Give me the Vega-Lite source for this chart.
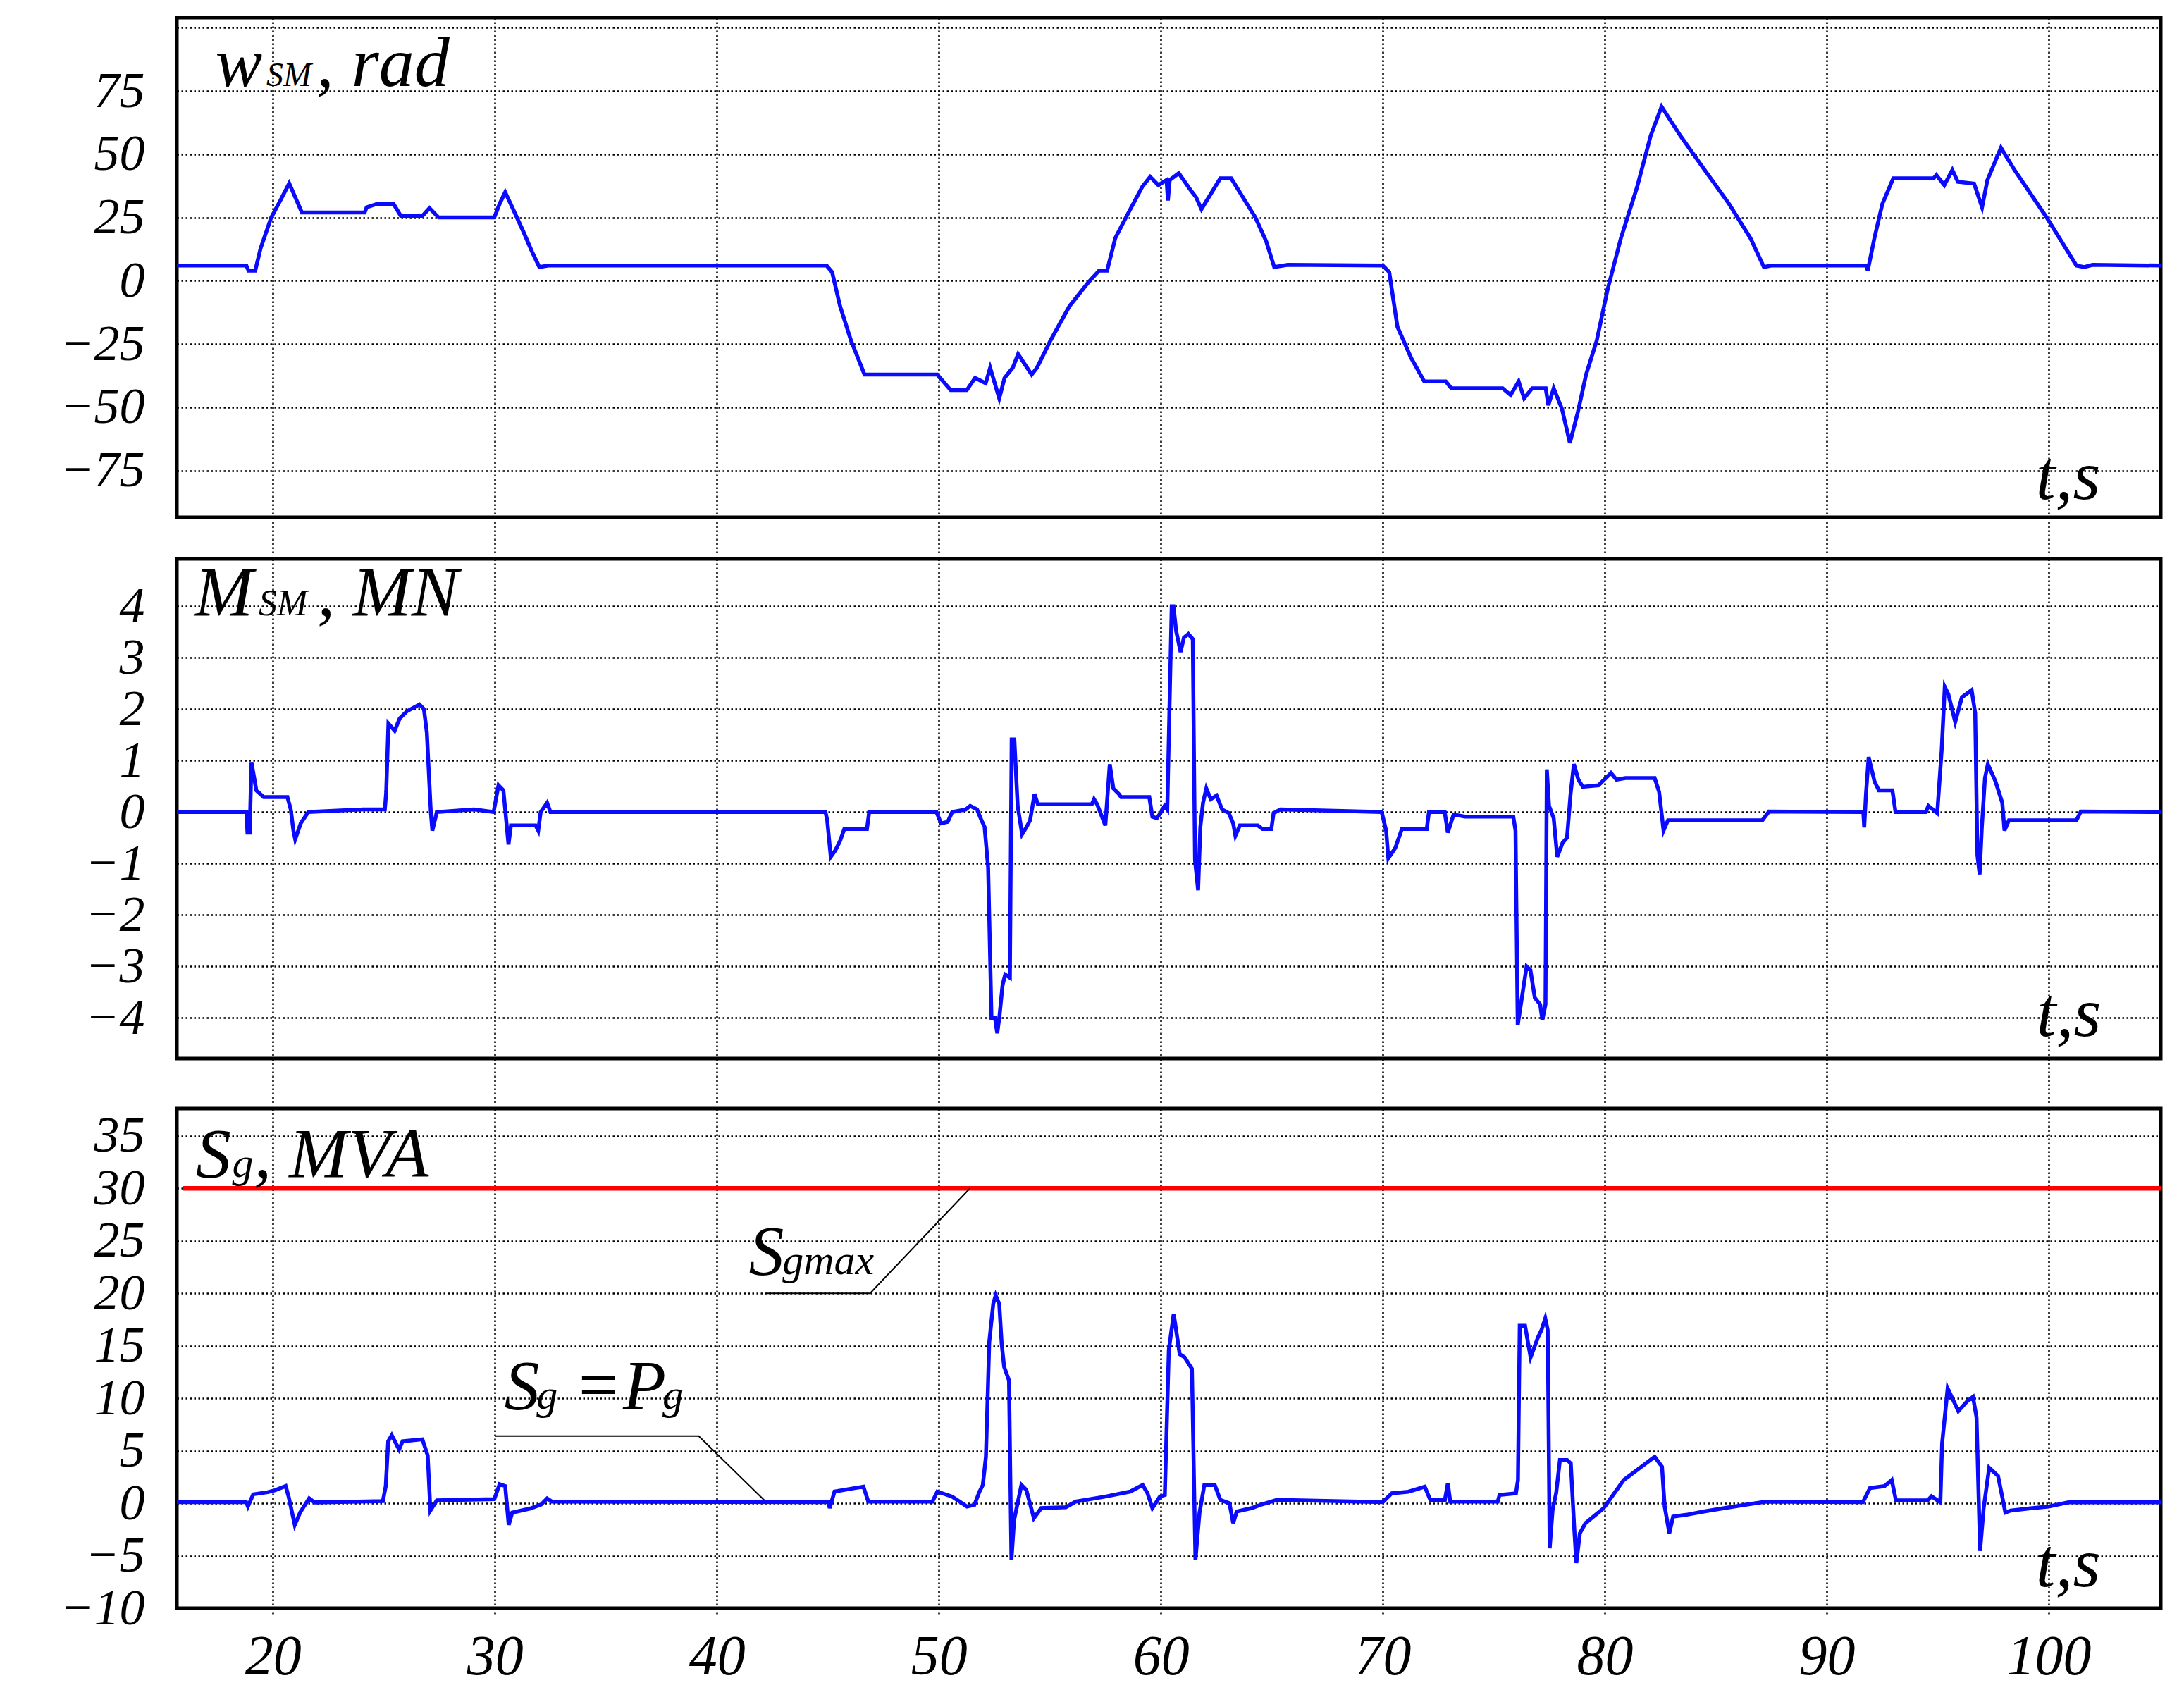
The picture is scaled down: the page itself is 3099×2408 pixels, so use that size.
{
  "$schema": "https://vega.github.io/schema/vega-lite/v6.json",
  "background": "white",
  "padding": {"left": 81, "top": 0, "right": 10, "bottom": 0},
  "spacing": 0,
  "config": {
    "view": {"stroke": "black", "strokeWidth": 5},
    "font": "Liberation Serif",
    "axis": {"labelFont": "Liberation Serif", "labelFontStyle": "italic", "labelColor": "black", "labelOverlap": false, "labelFlush": false, "domain": false, "gridColor": "black", "gridDash": [2.5, 3.5], "gridWidth": 2.5, "gridOpacity": 1, "title": null}
  },
  "datasets": {
    "w": [
      {"t":15.67,"v":6},{"t":18.8,"v":6},{"t":18.9,"v":4},{"t":19.2,"v":4},{"t":19.44,"v":12.8},{"t":19.92,"v":25},{"t":20.33,"v":31.7},{"t":20.73,"v":38.5},{"t":21.3,"v":27},{"t":24.13,"v":27},{"t":24.22,"v":29},{"t":24.7,"v":30.4},{"t":25.43,"v":30.4},{"t":25.76,"v":25.6},{"t":26.73,"v":25.6},{"t":27.05,"v":28.7},{"t":27.46,"v":25},{"t":29.97,"v":25},{"t":30.21,"v":30.4},{"t":30.46,"v":35},{"t":30.78,"v":29},{"t":31.27,"v":19.6},{"t":31.67,"v":11.5},{"t":32.0,"v":5.4},{"t":32.4,"v":6},{"t":44.94,"v":6},{"t":45.19,"v":3.4},{"t":45.55,"v":-10.1},{"t":46.04,"v":-23.6},{"t":46.65,"v":-37.1},{"t":49.93,"v":-37.1},{"t":50.53,"v":-43.2},{"t":51.26,"v":-43.2},{"t":51.63,"v":-38.4},{"t":52.11,"v":-40.5},{"t":52.31,"v":-34.4},{"t":52.72,"v":-46.5},{"t":52.96,"v":-38.4},{"t":53.33,"v":-34.4},{"t":53.57,"v":-29},{"t":54.18,"v":-37.1},{"t":54.42,"v":-34.4},{"t":55.03,"v":-23.6},{"t":55.88,"v":-10.1},{"t":56.73,"v":-0.7},{"t":57.22,"v":4},{"t":57.58,"v":4},{"t":57.95,"v":16.9},{"t":58.43,"v":25},{"t":59.16,"v":37.1},{"t":59.52,"v":41.1},{"t":59.89,"v":37.8},{"t":60.26,"v":39.8},{"t":60.32,"v":31.7},{"t":60.4,"v":39.8},{"t":60.81,"v":42.5},{"t":61.35,"v":35.7},{"t":61.59,"v":33},{"t":61.83,"v":28.3},{"t":62.68,"v":40.5},{"t":63.17,"v":40.5},{"t":64.26,"v":25},{"t":64.75,"v":15.5},{"t":65.11,"v":5.4},{"t":65.72,"v":6.3},{"t":70.0,"v":6},{"t":70.29,"v":3.4},{"t":70.66,"v":-18.2},{"t":71.27,"v":-30.4},{"t":71.87,"v":-39.8},{"t":72.84,"v":-39.8},{"t":73.09,"v":-42.5},{"t":75.4,"v":-42.5},{"t":75.76,"v":-45.2},{"t":76.12,"v":-39.8},{"t":76.37,"v":-46.5},{"t":76.73,"v":-42.5},{"t":77.34,"v":-42.5},{"t":77.46,"v":-49.2},{"t":77.7,"v":-42.5},{"t":78.07,"v":-50.6},{"t":78.43,"v":-64.1},{"t":78.79,"v":-51.9},{"t":79.16,"v":-37.1},{"t":79.64,"v":-23.6},{"t":80.13,"v":-3.4},{"t":80.73,"v":16.9},{"t":81.46,"v":37.1},{"t":82.07,"v":57.3},{"t":82.56,"v":68.8},{"t":83.41,"v":57.3},{"t":84.5,"v":43.8},{"t":85.6,"v":30.4},{"t":86.56,"v":16.9},{"t":87.17,"v":5.4},{"t":87.5,"v":6},{"t":91.78,"v":6},{"t":91.85,"v":4},{"t":92.15,"v":16.9},{"t":92.51,"v":30.4},{"t":93.0,"v":40.5},{"t":94.82,"v":40.5},{"t":94.94,"v":41.8},{"t":95.3,"v":37.8},{"t":95.66,"v":43.8},{"t":95.91,"v":39.1},{"t":96.64,"v":38.4},{"t":97.0,"v":29},{"t":97.24,"v":39.8},{"t":97.85,"v":52.6},{"t":98.46,"v":43.8},{"t":99.91,"v":25},{"t":101.25,"v":6},{"t":101.6,"v":5.4},{"t":101.98,"v":6.3},{"t":105.05,"v":6}
    ],
    "m": [
      {"t":15.67,"v":0},{"t":18.8,"v":0},{"t":18.85,"v":-0.4},{"t":18.95,"v":-0.4},{"t":19.03,"v":0.97},{"t":19.25,"v":0.42},{"t":19.58,"v":0.29},{"t":20.65,"v":0.29},{"t":20.8,"v":0.05},{"t":20.92,"v":-0.36},{"t":21.0,"v":-0.53},{"t":21.25,"v":-0.22},{"t":21.59,"v":0},{"t":24.04,"v":0.05},{"t":25.04,"v":0.05},{"t":25.1,"v":0.39},{"t":25.2,"v":1.72},{"t":25.48,"v":1.58},{"t":25.71,"v":1.82},{"t":26.04,"v":1.96},{"t":26.6,"v":2.09},{"t":26.8,"v":2.0},{"t":26.93,"v":1.55},{"t":27.11,"v":0},{"t":27.18,"v":-0.36},{"t":27.38,"v":0},{"t":29.05,"v":0.05},{"t":29.94,"v":0},{"t":30.16,"v":0.52},{"t":30.38,"v":0.42},{"t":30.61,"v":-0.63},{"t":30.72,"v":-0.26},{"t":31.83,"v":-0.26},{"t":31.95,"v":-0.36},{"t":32.06,"v":0},{"t":32.35,"v":0.18},{"t":32.5,"v":0},{"t":44.89,"v":0},{"t":44.97,"v":-0.16},{"t":45.13,"v":-0.87},{"t":45.34,"v":-0.74},{"t":45.54,"v":-0.57},{"t":45.74,"v":-0.33},{"t":46.76,"v":-0.33},{"t":46.86,"v":0},{"t":49.89,"v":0},{"t":50.1,"v":-0.22},{"t":50.4,"v":-0.19},{"t":50.6,"v":0},{"t":51.21,"v":0.05},{"t":51.41,"v":0.12},{"t":51.72,"v":0.05},{"t":51.92,"v":-0.16},{"t":52.06,"v":-0.29},{"t":52.22,"v":-1.08},{"t":52.37,"v":-4.0},{"t":52.53,"v":-4.0},{"t":52.63,"v":-4.3},{"t":52.73,"v":-3.97},{"t":52.87,"v":-3.36},{"t":52.99,"v":-3.16},{"t":53.2,"v":-3.22},{"t":53.28,"v":1.41},{"t":53.4,"v":1.41},{"t":53.55,"v":0.12},{"t":53.75,"v":-0.43},{"t":53.95,"v":-0.29},{"t":54.11,"v":-0.16},{"t":54.31,"v":0.35},{"t":54.46,"v":0.15},{"t":56.89,"v":0.15},{"t":56.99,"v":0.25},{"t":57.13,"v":0.15},{"t":57.5,"v":-0.26},{"t":57.7,"v":0.93},{"t":57.86,"v":0.46},{"t":58.11,"v":0.35},{"t":58.21,"v":0.29},{"t":59.48,"v":0.29},{"t":59.62,"v":-0.09},{"t":59.82,"v":-0.12},{"t":60.03,"v":0.01},{"t":60.17,"v":0.12},{"t":60.29,"v":0.05},{"t":60.49,"v":4.0},{"t":60.57,"v":4.0},{"t":60.69,"v":3.52},{"t":60.89,"v":3.11},{"t":61.04,"v":3.39},{"t":61.24,"v":3.46},{"t":61.44,"v":3.36},{"t":61.54,"v":-0.94},{"t":61.68,"v":-1.52},{"t":61.78,"v":-0.29},{"t":61.9,"v":0.18},{"t":62.05,"v":0.46},{"t":62.25,"v":0.25},{"t":62.51,"v":0.32},{"t":62.76,"v":0.05},{"t":63.06,"v":-0.02},{"t":63.26,"v":-0.22},{"t":63.36,"v":-0.46},{"t":63.56,"v":-0.26},{"t":64.37,"v":-0.26},{"t":64.58,"v":-0.33},{"t":64.98,"v":-0.33},{"t":65.08,"v":-0.02},{"t":65.39,"v":0.05},{"t":69.95,"v":0},{"t":70.15,"v":-0.36},{"t":70.25,"v":-0.9},{"t":70.56,"v":-0.7},{"t":70.86,"v":-0.33},{"t":71.98,"v":-0.33},{"t":72.08,"v":0},{"t":72.79,"v":0},{"t":72.93,"v":-0.4},{"t":73.19,"v":-0.05},{"t":73.7,"v":-0.09},{"t":75.88,"v":-0.09},{"t":75.98,"v":-0.36},{"t":76.08,"v":-4.14},{"t":76.28,"v":-3.57},{"t":76.48,"v":-3.0},{"t":76.65,"v":-3.07},{"t":76.85,"v":-3.61},{"t":77.09,"v":-3.74},{"t":77.19,"v":-4.04},{"t":77.33,"v":-3.74},{"t":77.39,"v":0.83},{"t":77.49,"v":0.12},{"t":77.7,"v":-0.12},{"t":77.86,"v":-0.87},{"t":78.1,"v":-0.6},{"t":78.3,"v":-0.5},{"t":78.46,"v":0.35},{"t":78.61,"v":0.93},{"t":78.81,"v":0.63},{"t":79.01,"v":0.49},{"t":79.72,"v":0.52},{"t":80.28,"v":0.76},{"t":80.53,"v":0.63},{"t":80.93,"v":0.66},{"t":82.25,"v":0.66},{"t":82.45,"v":0.39},{"t":82.65,"v":-0.36},{"t":82.85,"v":-0.16},{"t":87.1,"v":-0.16},{"t":87.4,"v":0.01},{"t":91.65,"v":0},{"t":91.69,"v":-0.3},{"t":91.77,"v":0.35},{"t":91.89,"v":1.07},{"t":92.15,"v":0.6},{"t":92.35,"v":0.42},{"t":92.96,"v":0.42},{"t":93.1,"v":0},{"t":94.47,"v":0},{"t":94.58,"v":0.12},{"t":94.98,"v":-0.02},{"t":95.18,"v":1.2},{"t":95.32,"v":2.43},{"t":95.48,"v":2.29},{"t":95.79,"v":1.75},{"t":96.09,"v":2.23},{"t":96.53,"v":2.37},{"t":96.69,"v":1.92},{"t":96.79,"v":-0.84},{"t":96.89,"v":-1.21},{"t":96.99,"v":-0.29},{"t":97.13,"v":0.66},{"t":97.26,"v":0.93},{"t":97.6,"v":0.6},{"t":97.91,"v":0.18},{"t":98.01,"v":-0.36},{"t":98.21,"v":-0.16},{"t":101.25,"v":-0.16},{"t":101.45,"v":0.01},{"t":105.05,"v":0}
    ],
    "s": [
      {"t":15.67,"v":0.1},{"t":18.79,"v":0.1},{"t":18.87,"v":-0.31},{"t":19.11,"v":0.85},{"t":19.76,"v":1.05},{"t":20.09,"v":1.24},{"t":20.57,"v":1.63},{"t":20.7,"v":0.66},{"t":20.98,"v":-2.06},{"t":21.22,"v":-0.89},{"t":21.63,"v":0.47},{"t":21.87,"v":0.08},{"t":24.95,"v":0.2},{"t":25.08,"v":1.63},{"t":25.19,"v":5.9},{"t":25.35,"v":6.48},{"t":25.68,"v":5.12},{"t":25.84,"v":5.9},{"t":26.73,"v":6.09},{"t":26.97,"v":4.54},{"t":27.09,"v":-0.7},{"t":27.38,"v":0.27},{"t":29.97,"v":0.39},{"t":30.21,"v":1.82},{"t":30.46,"v":1.63},{"t":30.62,"v":-2.06},{"t":30.78,"v":-0.89},{"t":31.59,"v":-0.5},{"t":32.08,"v":-0.12},{"t":32.35,"v":0.45},{"t":32.56,"v":0.16},{"t":45.03,"v":0.1},{"t":45.08,"v":-0.47},{"t":45.3,"v":1.11},{"t":46.15,"v":1.42},{"t":46.6,"v":1.58},{"t":46.82,"v":0.16},{"t":49.71,"v":0.16},{"t":49.93,"v":1.11},{"t":50.6,"v":0.63},{"t":51.27,"v":-0.32},{"t":51.6,"v":-0.16},{"t":51.83,"v":1.11},{"t":51.98,"v":1.74},{"t":52.12,"v":4.43},{"t":52.27,"v":15.35},{"t":52.45,"v":19},{"t":52.56,"v":19.8},{"t":52.72,"v":19},{"t":52.83,"v":15.2},{"t":52.94,"v":13.0},{"t":53.16,"v":11.7},{"t":53.27,"v":-5.38},{"t":53.39,"v":-1.58},{"t":53.72,"v":1.74},{"t":53.94,"v":1.27},{"t":54.28,"v":-1.42},{"t":54.61,"v":-0.47},{"t":55.72,"v":-0.38},{"t":56.17,"v":0.16},{"t":57.5,"v":0.63},{"t":58.62,"v":1.11},{"t":59.18,"v":1.74},{"t":59.4,"v":0.95},{"t":59.62,"v":-0.47},{"t":59.96,"v":0.63},{"t":60.18,"v":0.79},{"t":60.36,"v":14.6},{"t":60.58,"v":18.04},{"t":60.85,"v":14.2},{"t":61.07,"v":13.9},{"t":61.4,"v":12.8},{"t":61.56,"v":-5.38},{"t":61.74,"v":-0.95},{"t":61.96,"v":1.74},{"t":62.43,"v":1.74},{"t":62.68,"v":0.32},{"t":63.09,"v":0},{"t":63.26,"v":-1.9},{"t":63.42,"v":-0.79},{"t":64.08,"v":-0.47},{"t":64.49,"v":-0.16},{"t":65.23,"v":0.32},{"t":70.0,"v":0.1},{"t":70.41,"v":0.95},{"t":71.15,"v":1.1},{"t":71.89,"v":1.58},{"t":72.14,"v":0.32},{"t":72.8,"v":0.32},{"t":72.93,"v":1.9},{"t":73.04,"v":0.16},{"t":75.18,"v":0.16},{"t":75.26,"v":0.79},{"t":76.0,"v":0.95},{"t":76.09,"v":2.2},{"t":76.17,"v":16.9},{"t":76.41,"v":16.9},{"t":76.66,"v":13.9},{"t":76.99,"v":15.8},{"t":77.15,"v":16.5},{"t":77.32,"v":17.6},{"t":77.43,"v":16.5},{"t":77.52,"v":-4.3},{"t":77.65,"v":-0.63},{"t":77.81,"v":0.95},{"t":77.98,"v":4.11},{"t":78.31,"v":4.11},{"t":78.47,"v":3.8},{"t":78.63,"v":-2.53},{"t":78.72,"v":-5.7},{"t":78.88,"v":-2.85},{"t":79.13,"v":-1.9},{"t":79.95,"v":-0.47},{"t":80.86,"v":2.22},{"t":82.25,"v":4.43},{"t":82.58,"v":3.48},{"t":82.7,"v":-0.32},{"t":82.91,"v":-2.85},{"t":83.08,"v":-1.27},{"t":83.65,"v":-1.11},{"t":84.47,"v":-0.79},{"t":85.38,"v":-0.47},{"t":86.28,"v":-0.16},{"t":87.27,"v":0.16},{"t":91.63,"v":0.1},{"t":91.95,"v":1.44},{"t":92.6,"v":1.63},{"t":92.93,"v":2.21},{"t":93.12,"v":0.27},{"t":94.55,"v":0.27},{"t":94.72,"v":0.66},{"t":95.12,"v":0.08},{"t":95.2,"v":5.71},{"t":95.45,"v":10.95},{"t":95.93,"v":8.77},{"t":96.34,"v":9.74},{"t":96.59,"v":10.13},{"t":96.75,"v":8.2},{"t":96.91,"v":-4.54},{"t":97.07,"v":-0.5},{"t":97.32,"v":3.38},{"t":97.72,"v":2.6},{"t":98.05,"v":-0.89},{"t":98.29,"v":-0.7},{"t":99.11,"v":-0.5},{"t":100.0,"v":-0.31},{"t":100.89,"v":0.08},{"t":105.05,"v":0.08}
    ]
  },
  "vconcat": [
    {
      "width": 2815,
      "height": 709,
      "encoding": {
        "x": {"field": "t", "type": "quantitative", "scale": {"domain": [15.67, 105.05], "nice": false, "zero": false},
              "axis": {"values": [20, 30, 40, 50, 60, 70, 80, 90, 100], "labels": false, "ticks": true, "tickSize": 52, "tickColor": "black", "tickWidth": 2.5, "tickDash": [2.5, 3.5], "grid": true}},
        "y": {"field": "v", "type": "quantitative", "scale": {"domain": [-93.5, 104], "nice": false, "zero": false},
              "axis": {"values": [-75, -50, -25, 0, 25, 50, 75, 100], "labelExpr": "datum.value > 90 ? '' : datum.label", "ticks": false, "tickSize": 0, "labelPadding": 46, "labelFontSize": 72, "grid": true}}
      },
      "layer": [
        {"data": {"name": "w"}, "mark": {"type": "line", "color": "#0a0aff", "strokeWidth": 5.5}},
        {"data": {"values": [{"t": 17.4, "v": 76.9, "label": "w"}, {"t": 21.95, "v": 76.9, "label": ", rad"}, {"t": 99.42, "v": -86.3, "label": "t,s"}]},
         "mark": {"type": "text", "font": "Liberation Serif", "fontStyle": "italic", "fontSize": 100, "align": "left", "baseline": "alphabetic", "color": "black"},
         "encoding": {"text": {"field": "label"}}},
        {"data": {"values": [{"t": 19.7, "v": 76.9, "label": "SM"}]},
         "mark": {"type": "text", "font": "Liberation Serif", "fontStyle": "italic", "fontSize": 48, "align": "left", "baseline": "alphabetic", "color": "black"},
         "encoding": {"text": {"field": "label"}}}
      ]
    },
    {
      "width": 2815,
      "height": 709,
      "encoding": {
        "x": {"field": "t", "type": "quantitative", "scale": {"domain": [15.67, 105.05], "nice": false, "zero": false},
              "axis": {"values": [20, 30, 40, 50, 60, 70, 80, 90, 100], "labels": false, "ticks": true, "tickSize": 64, "tickColor": "black", "tickWidth": 2.5, "tickDash": [2.5, 3.5], "grid": true}},
        "y": {"field": "v", "type": "quantitative", "scale": {"domain": [-4.79, 4.92], "nice": false, "zero": false},
              "axis": {"values": [-4, -3, -2, -1, 0, 1, 2, 3, 4], "ticks": false, "tickSize": 0, "labelPadding": 46, "labelFontSize": 72, "grid": true}}
      },
      "layer": [
        {"data": {"name": "m"}, "mark": {"type": "line", "color": "#0a0aff", "strokeWidth": 5.5}},
        {"data": {"values": [{"t": 16.46, "v": 3.83, "label": "M"}, {"t": 22.0, "v": 3.83, "label": ", MN"}, {"t": 99.45, "v": -4.35, "label": "t,s"}]},
         "mark": {"type": "text", "font": "Liberation Serif", "fontStyle": "italic", "fontSize": 100, "align": "left", "baseline": "alphabetic", "color": "black"},
         "encoding": {"text": {"field": "label"}}},
        {"data": {"values": [{"t": 19.35, "v": 3.83, "label": "SM"}]},
         "mark": {"type": "text", "font": "Liberation Serif", "fontStyle": "italic", "fontSize": 52, "align": "left", "baseline": "alphabetic", "color": "black"},
         "encoding": {"text": {"field": "label"}}}
      ]
    },
    {
      "width": 2815,
      "height": 709,
      "encoding": {
        "x": {"field": "t", "type": "quantitative", "scale": {"domain": [15.67, 105.05], "nice": false, "zero": false},
              "axis": {"values": [20, 30, 40, 50, 60, 70, 80, 90, 100], "labelFontSize": 80, "labelPadding": 22, "ticks": true, "tickSize": 8, "tickColor": "black", "tickWidth": 2.5, "tickDash": [2.5, 3.5], "grid": true}},
        "y": {"field": "v", "type": "quantitative", "scale": {"domain": [-10, 37.6], "nice": false, "zero": false},
              "axis": {"values": [-10, -5, 0, 5, 10, 15, 20, 25, 30, 35], "ticks": false, "tickSize": 0, "labelPadding": 46, "labelFontSize": 72, "grid": true}}
      },
      "layer": [
        {"data": {"values": [{"t": 15.95, "t2": 105.05, "v": 30}]},
         "mark": {"type": "rule", "color": "#ff0000", "strokeWidth": 6.5},
         "encoding": {"x2": {"field": "t2"}}},
        {"data": {"values": [
            {"t": 42.2, "v": 20, "g": "a", "o": 1}, {"t": 46.9, "v": 20, "g": "a", "o": 2}, {"t": 51.4, "v": 30, "g": "a", "o": 3},
            {"t": 30.0, "v": 6.4, "g": "b", "o": 1}, {"t": 39.18, "v": 6.4, "g": "b", "o": 2}, {"t": 42.27, "v": 0, "g": "b", "o": 3}]},
         "mark": {"type": "line", "color": "black", "strokeWidth": 2},
         "encoding": {"detail": {"field": "g"}, "order": {"field": "o"}}},
        {"data": {"name": "s"}, "mark": {"type": "line", "color": "#0a0aff", "strokeWidth": 5.5}},
        {"data": {"values": [{"t": 16.52, "v": 31.1, "label": "S"}, {"t": 19.14, "v": 31.1, "label": ", MVA"}, {"t": 41.44, "v": 21.8, "label": "S"}, {"t": 30.42, "v": 9.0, "label": "S"}, {"t": 33.56, "v": 9.0, "label": "="}, {"t": 35.77, "v": 9.0, "label": "P"}, {"t": 99.42, "v": -7.9, "label": "t,s"}]},
         "mark": {"type": "text", "font": "Liberation Serif", "fontStyle": "italic", "fontSize": 100, "align": "left", "baseline": "alphabetic", "color": "black"},
         "encoding": {"text": {"field": "label"}}},
        {"data": {"values": [{"t": 18.16, "v": 31.1, "label": "g"}, {"t": 42.95, "v": 21.8, "label": "gmax"}, {"t": 31.87, "v": 9.0, "label": "g"}, {"t": 37.55, "v": 9.0, "label": "g"}]},
         "mark": {"type": "text", "font": "Liberation Serif", "fontStyle": "italic", "fontSize": 60, "align": "left", "baseline": "alphabetic", "color": "black"},
         "encoding": {"text": {"field": "label"}}}
      ]
    }
  ]
}
